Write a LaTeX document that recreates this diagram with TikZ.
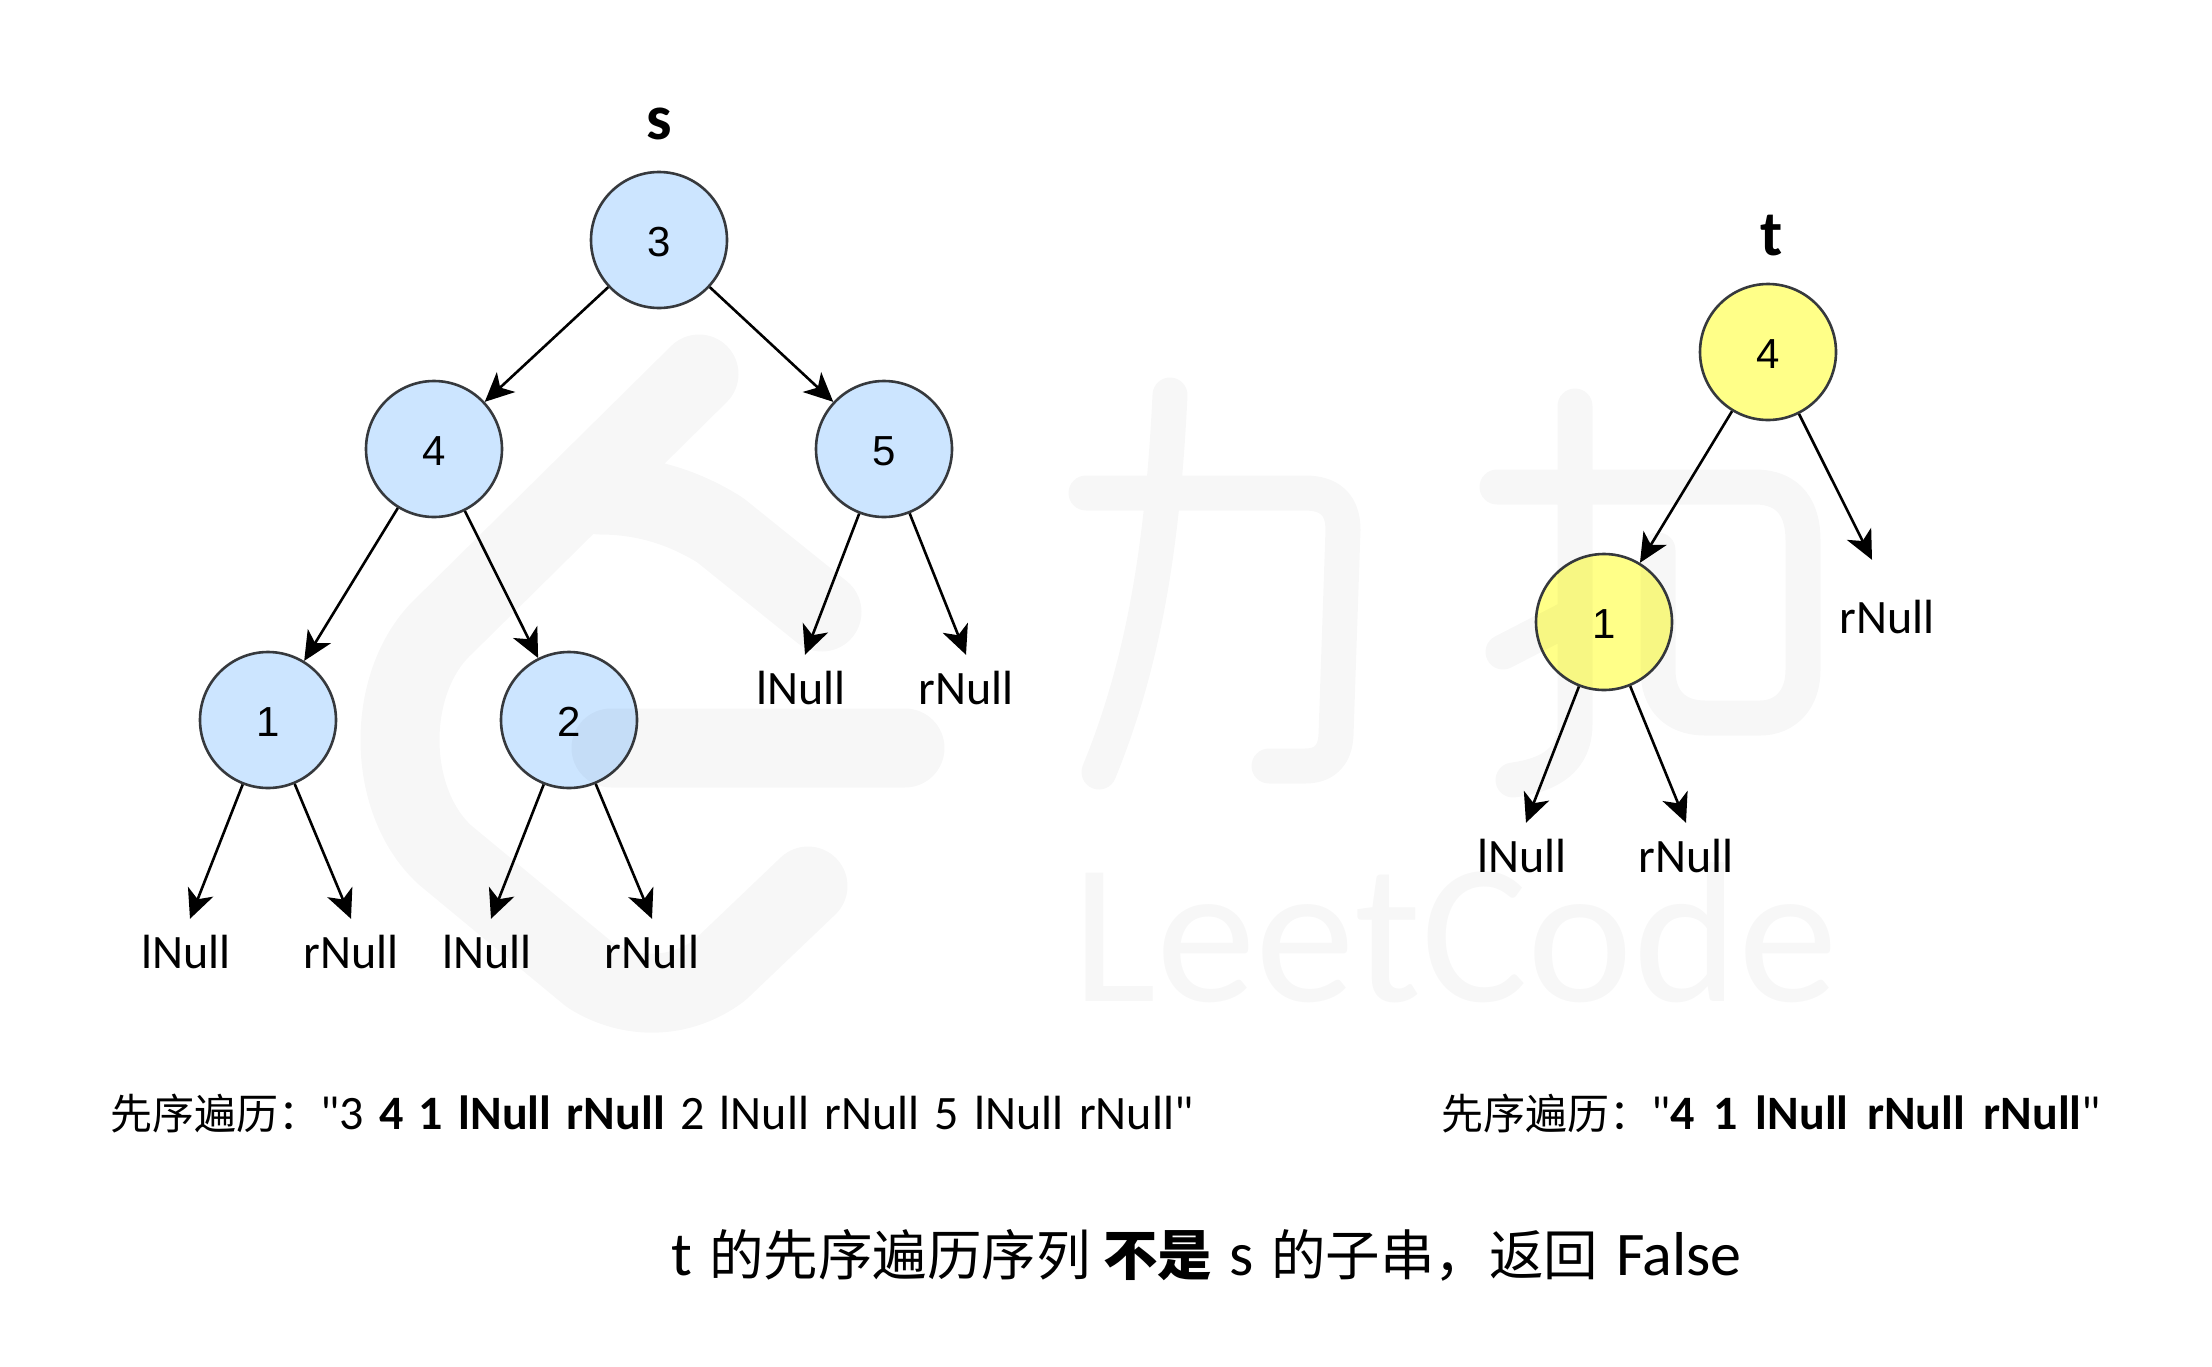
\documentclass[tikz,border=0pt]{standalone}
\usepackage{fontspec}
\setmainfont{Carlito}
\newfontfamily\digitfont{Liberation Sans}
\newfontfamily\cjk{Noto Sans CJK SC}
\newfontfamily\resultfont{Carlito}[WordSpace=1.25]
\usetikzlibrary{positioning}
\usetikzlibrary{arrows.meta}
\newcommand{\zhsmall}[1]{{\cjk\fontsize{42}{50}\selectfont #1}}
\newcommand{\zhbig}[1]{{\cjk\fontsize{54.5}{64}\selectfont #1}}
\definecolor{blueFill}{HTML}{CCE5FF}
\definecolor{yellowFill}{HTML}{FFFF88}
\definecolor{nodeLine}{HTML}{36393D}
\tikzset{x=1pt,y=1pt,on grid,
    every edge/.style={
        draw=black,
        -{Stealth[length=29pt,width=27pt,inset=8pt]},
        line width=2.6pt},
    treenode/.style={
        circle,
        draw=nodeLine,
        line width=2.6pt,
        minimum size=136pt,
        inner sep=0pt,
        text height=33pt,
        text depth=0pt,
        font=\digitfont\fontsize{42}{48}\selectfont},
    bluenode/.style={treenode,fill=blueFill},
    yellownode/.style={treenode,fill=yellowFill},
    nullnode/.style={
        inner sep=0pt,
        minimum height=66pt,
        font=\fontsize{48}{56}\selectfont},
    treename/.style={
        inner sep=0pt,
        font=\bfseries\fontsize{64}{70}\selectfont},
    caption/.style={
        anchor=west,
        inner sep=0pt,
        font=\fontsize{48}{56}\selectfont},
    wmarkstroke/.style={
        draw=black,
        opacity=.032,
        line cap=round,
        line join=round}}

\begin{document}
\begin{tikzpicture}
    \fill[white] (0,0) rectangle (2212,-1366);
    \useasboundingbox (0,0) rectangle (2212,-1366);

    % tree s
    \node[bluenode] (s3) at (659,-240) {3};
    \node[treename,above=116pt of s3] (sname) {s};
    \node[bluenode,below left=209pt and 225pt of s3] (s4) {4};
    \node[bluenode,below right=209pt and 225pt of s3] (s5) {5};
    \node[bluenode,below left=271pt and 166pt of s4] (s1) {1};
    \node[bluenode,below right=271pt and 135pt of s4] (s2) {2};
    \node[nullnode,below left=232pt and 82pt of s1] (s1l) {lNull};
    \node[nullnode,below right=232pt and 83pt of s1] (s1r) {rNull};
    \node[nullnode,below left=232pt and 82pt of s2] (s2l) {lNull};
    \node[nullnode,below right=232pt and 83pt of s2] (s2r) {rNull};
    \node[nullnode,below left=239pt and 83pt of s5] (s5l) {lNull};
    \node[nullnode,below right=239pt and 82pt of s5] (s5r) {rNull};

    % tree t
    \node[yellownode] (t4) at (1768,-352) {4};
    \node[treename,above=116pt of t4,xshift=4pt] (tname) {t};
    \node[yellownode,below left=270pt and 164pt of t4] (t1) {1};
    \node[nullnode,below right=265pt and 119pt of t4] (t4r) {rNull};
    \node[nullnode,below left=234pt and 82pt of t1] (t1l) {lNull};
    \node[nullnode,below right=234pt and 82pt of t1] (t1r) {rNull};

    \path (s3) edge (s4)
          (s3) edge (s5)
          (s4) edge (s1)
          (s4) edge (s2)
          (s1) edge ([xshift=4pt]s1l.north)
          (s1) edge (s1r.north)
          (s2) edge ([xshift=4pt]s2l.north)
          (s2) edge (s2r.north)
          (s5) edge ([xshift=4pt]s5l.north)
          (s5) edge (s5r.north)
          (t4) edge (t1)
          (t4) edge ([xshift=-15pt,yshift=24pt]t4r.north)
          (t1) edge ([xshift=4pt]t1l.north)
          (t1) edge (t1r.north);

    % captions
    \node[caption] (scaption) at (110,-1114)
        {\spaceskip=15.4pt\relax\zhsmall{先序遍历：}\textquotedbl 3 \textbf{4 1 lNull rNull} 2 lNull rNull 5 lNull rNull\textquotedbl};
    \node[caption] (tcaption) at (1441,-1114)
        {\spaceskip=18.4pt\relax\zhsmall{先序遍历：}\textquotedbl\textbf{4 1 lNull rNull rNull}\textquotedbl};
    \node[caption,font=\resultfont\fontsize{62}{70}\selectfont] (result) at (671,-1255)
        {t \zhbig{的先序遍历序列 \textbf{不是}} s \zhbig{的子串，返回} False};

    % watermark
    \draw[wmarkstroke,line width=79pt]
        (699,-374) -- (445,-625) .. controls (385,-680) and (385,-800) .. (445,-855)
        -- (590,-975) .. controls (630,-1000) and (680,-1000) .. (720,-970) -- (808,-886)
        (822,-612) -- (720,-530) .. controls (680,-505) and (640,-495) .. (600,-495)
        (611,-748) -- (905,-748);
    \draw[wmarkstroke,line width=35pt]
        (1086,-493) -- (1305,-493) .. controls (1330,-493) and (1343,-505) .. (1343,-530)
        -- (1336,-735) .. controls (1335,-755) and (1325,-766) .. (1305,-766) -- (1269,-766)
        (1170,-395) .. controls (1163,-540) and (1145,-660) .. (1099,-772);
    \draw[wmarkstroke,line width=35pt]
        (1575,-406) -- (1575,-724) .. controls (1575,-760) and (1550,-775) .. (1513,-780)
        (1503,-652) -- (1575,-615)
        (1497,-487) -- (1755,-487) .. controls (1790,-487) and (1803,-510) .. (1803,-540)
        -- (1803,-670) .. controls (1803,-700) and (1785,-718) .. (1760,-718) -- (1705,-718)
        .. controls (1675,-718) and (1658,-700) .. (1658,-670) -- (1658,-550);
    \node[opacity=.032,inner sep=0pt,font=\fontsize{200}{206}\selectfont] (wmarktext) at (1455,-933) {LeetCode};
\end{tikzpicture}
\end{document}
